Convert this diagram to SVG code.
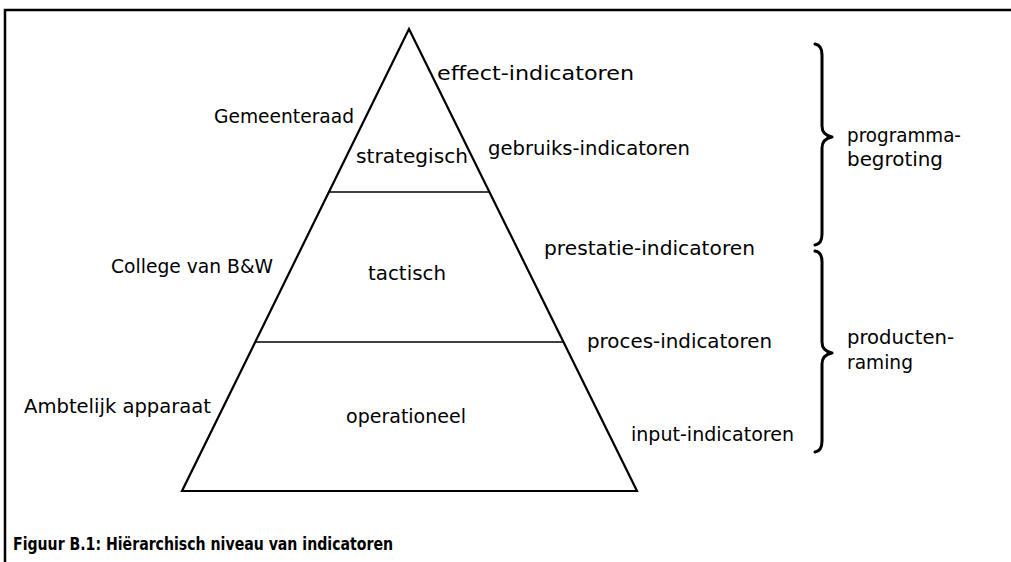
<svg xmlns="http://www.w3.org/2000/svg" width="1011" height="562" viewBox="0 0 1011 562">
  <style>
    .lbl { font-family: "DejaVu Sans", "Liberation Sans", sans-serif; font-size: 19px; fill: #000; }
    .cap { font-family: "DejaVu Sans", "Liberation Sans", sans-serif; font-size: 17px; font-weight: bold; fill: #000; }
    .edge { fill: none; stroke: #000; stroke-width: 2.2; stroke-linejoin: miter; }
    .tier { stroke: #000; stroke-width: 1.6; }
    .brace { fill: none; stroke: #000; stroke-width: 3; stroke-linecap: round; stroke-linejoin: round; }
  </style>
  <rect width="1011" height="562" fill="#fff"/>

  <!-- frame -->
  <path d="M5,570 V10 H1020" fill="none" stroke="#000" stroke-width="2.5"/>

  <!-- pyramid -->
  <g id="pyramid">
    <polygon class="edge" points="409,29 637,491 182,491"/>
    <g id="connectors">
      <line class="tier" x1="329" y1="192" x2="489" y2="192"/>
      <line class="tier" x1="255" y1="342" x2="564" y2="342"/>
    </g>
  </g>

  <!-- levels inside pyramid -->
  <g id="strategisch"><text class="lbl" x="356" y="163" textLength="112" lengthAdjust="spacingAndGlyphs">strategisch</text></g>
  <g id="tactisch"><text class="lbl" x="368" y="280" textLength="78" lengthAdjust="spacingAndGlyphs">tactisch</text></g>
  <g id="operationeel"><text class="lbl" x="346" y="423" textLength="120" lengthAdjust="spacingAndGlyphs">operationeel</text></g>

  <!-- actors -->
  <g id="gemeenteraad"><text class="lbl" x="214" y="123" textLength="140" lengthAdjust="spacingAndGlyphs">Gemeenteraad</text></g>
  <g id="college"><text class="lbl" x="111" y="273" textLength="162" lengthAdjust="spacingAndGlyphs">College van B&amp;W</text></g>
  <g id="ambtelijk"><text class="lbl" x="24" y="413" textLength="187" lengthAdjust="spacingAndGlyphs">Ambtelijk apparaat</text></g>

  <!-- indicator types -->
  <g id="effect"><text class="lbl" x="437" y="80" textLength="197" lengthAdjust="spacingAndGlyphs">effect-indicatoren</text></g>
  <g id="gebruik"><text class="lbl" x="488" y="155" textLength="202" lengthAdjust="spacingAndGlyphs">gebruiks-indicatoren</text></g>
  <g id="prestatie"><text class="lbl" x="544" y="255" textLength="211" lengthAdjust="spacingAndGlyphs">prestatie-indicatoren</text></g>
  <g id="proces"><text class="lbl" x="587" y="348" textLength="185" lengthAdjust="spacingAndGlyphs">proces-indicatoren</text></g>
  <g id="input"><text class="lbl" x="631" y="441" textLength="163" lengthAdjust="spacingAndGlyphs">input-indicatoren</text></g>

  <!-- braces -->
  <g id="brace-programma">
    <path class="brace" d="M815,44 Q822,45 822,55 V126 Q822,135 832,137 Q822,139 822,148 V234 Q822,244 815,245"/>
    <text class="lbl" x="847" y="142" textLength="114" lengthAdjust="spacingAndGlyphs">programma-</text>
    <text class="lbl" x="847" y="166" textLength="96" lengthAdjust="spacingAndGlyphs">begroting</text>
  </g>
  <g id="brace-producten">
    <path class="brace" d="M815,251 Q822,252 822,262 V342 Q822,351 832,353 Q822,355 822,364 V441 Q822,451 815,452"/>
    <text class="lbl" x="847" y="344" textLength="107" lengthAdjust="spacingAndGlyphs">producten-</text>
    <text class="lbl" x="847" y="369" textLength="66" lengthAdjust="spacingAndGlyphs">raming</text>
  </g>

  <!-- caption -->
  <text class="cap" x="13" y="550" textLength="380" lengthAdjust="spacingAndGlyphs">Figuur B.1: Hiërarchisch niveau van indicatoren</text>
</svg>
